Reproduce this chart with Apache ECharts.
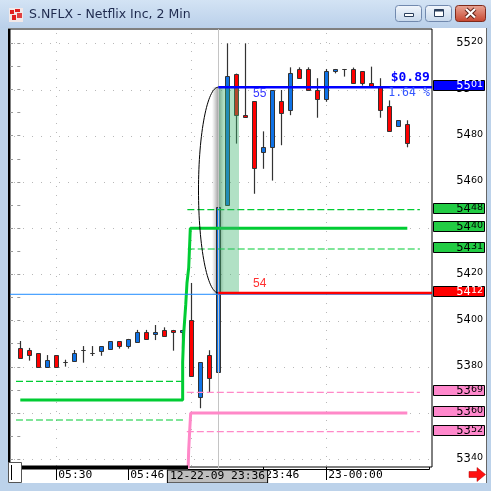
<!DOCTYPE html>
<html>
<head>
<meta charset="utf-8">
<script src="https://cdn.jsdelivr.net/npm/echarts@6.0.0/dist/echarts.min.js"></script>
<style>
html,body{margin:0;padding:0;background:#fff;overflow:hidden}
#chart{width:491px;height:491px}
</style>
</head>
<body>
<div id="chart"></div>
<script>
// ---------------- data ----------------
const titleText = 'S.NFLX - Netflix Inc, 2 Min';
const candleIdx = [0,1,2,3,4,5,6,7,8,9,10,11,12,13,14,15,16,17,18,19,20,21,22,23,24,25,26,27,28,29,30,31,32,33,34,35,36,37,38,39,40,41,42,43];
const opens  = [5388.0,5387.2,5385.9,5380.1,5385.1,5382.0,5382.7,5387.2,5385.9,5387.0,5387.9,5391.1,5388.9,5390.9,5395.0,5394.1,5396.0,5396.0,5395.0,5400.1,5367.1,5385.0,5377.9,5449.9,5506.9,5488.9,5494.9,5472.8,5475.0,5494.9,5491.0,5508.8,5508.8,5499.8,5495.8,5508.0,5508.9,5508.9,5508.0,5502.7,5501.0,5492.7,5484.1,5485.0];
const closes = [5384.0,5385.0,5380.1,5382.8,5380.1,5382.0,5385.9,5387.2,5385.9,5388.9,5391.1,5388.9,5392.1,5395.0,5391.9,5395.1,5393.2,5395.0,5396.0,5375.9,5382.0,5375.0,5449.0,5505.7,5488.9,5488.0,5465.9,5475.0,5499.7,5489.7,5507.0,5504.9,5499.7,5495.9,5508.0,5508.9,5508.9,5502.7,5502.7,5501.7,5491.0,5481.9,5486.7,5476.7];
const lows   = [5384.0,5382.7,5380.1,5380.1,5380.1,5380.1,5382.7,5381.8,5384.7,5384.8,5387.9,5387.9,5387.9,5390.9,5391.9,5391.6,5393.2,5387.0,5387.9,5375.9,5362.1,5369.1,5377.9,5449.9,5476.6,5488.0,5454.9,5465.7,5460.6,5475.9,5488.9,5504.9,5499.7,5487.8,5494.7,5507.0,5505.6,5502.7,5501.7,5501.7,5487.8,5481.9,5484.1,5475.0];
const highs  = [5391.2,5388.2,5385.9,5385.1,5385.1,5383.1,5387.3,5389.0,5389.0,5388.9,5391.1,5391.1,5392.1,5396.0,5396.0,5398.1,5397.1,5396.0,5396.0,5416.3,5382.0,5387.2,5449.0,5520.0,5506.9,5520.0,5494.9,5481.9,5499.7,5499.8,5509.6,5509.6,5509.6,5504.9,5508.9,5508.9,5508.9,5509.5,5508.0,5509.9,5504.9,5495.3,5486.7,5486.7];

const timeLabelIdx = [4, 12, 27, 34];
const timeLabels   = ['05:30', '05:46', '23:46', '23-00:00'];
const timeGridIdx  = [4, 19, 34];
const cursorIdx = 22;
const cursorLabel = '12-22-09 23:36';

const yTicks = [5340,5360,5380,5400,5420,5440,5460,5480,5500,5520];
const yMinorTicks = [5340,5350,5360,5370,5380,5390,5400,5410,5420,5430,5440,5450,5460,5470,5480,5490,5500,5510,5520];

// band lines [bar index, price]
const greenMid    = [[0,5365.7],[18.04,5365.7],[18.04,5382.1],[18.16,5394.6],[18.38,5406.8],[18.52,5416.3],[18.71,5422.8],[18.89,5440],[43,5440]];
const greenUpperL = [[-0.48,5373.7],[18.04,5373.7]];
const greenLowerL = [[-0.48,5357.0],[18.3,5357.0]];
const greenUpperR = [[18.56,5448],[44.4,5448]];
const greenLowerR = [[18.6,5431],[44.4,5431]];
const pinkMid     = [[18.6,5330],[18.71,5344],[18.82,5352.2],[18.93,5360],[43,5360]];
const pinkUpperR  = [[18.5,5369],[44.4,5369]];
const pinkLowerR  = [[18.5,5352],[44.4,5352]];

const prevCloseLevel = 5411.4;
const lowMarker  = 5412;
const highMarker = 5501;
const markerStartIdx = 22;
const greenTags = [5448, 5440, 5431];
const pinkTags  = [5369, 5360, 5352];
const redTags   = [5412];
const blueTags  = [5501];
const shadeRange = [22.08, 24.3, 5412, 5501]; // x0, x1, low, high

const annTexts = ['55', '54', '$0.89', '1.64 %'];
const annIdx   = [26.6, 26.6, 45.5, 45.5];
const annVals  = [5501, 5412, 5501, 5501];

// ---------------- layout / style ----------------
const X_MIN = -1.144, X_MAX = 45.744;
const Y_MIN = 5336.67, Y_MAX = 5526.19;
const UP = '#0F72E6', DOWN = '#FF0000', EDGE = '#333333';
const GREEN = '#00CC33', PINK = '#FF88C8';
const annStyle = [
  {dy: 6,    align: 'center', color: '#3535FF', font: '12px "Liberation Sans"'},
  {dy: -9,   align: 'center', color: '#FF3030', font: '12px "Liberation Sans"'},
  {dy: -9.5, align: 'right',  color: '#0000FF', font: 'bold 13px "DejaVu Sans Mono"'},
  {dy: 6,    align: 'right',  color: '#3355FF', font: '11.5px "DejaVu Sans Mono"'}
];
const MONO = '"DejaVu Sans Mono"';

function splitNum(v) {
  const s = String(Math.round(v));
  return '{a|' + s.slice(0, 2) + '}{b|' + s.slice(2) + '}';
}
const richAxis = {
  a: {fontSize: 11.5, fontFamily: 'DejaVu Sans', color: '#000', verticalAlign: 'top', lineHeight: 13},
  b: {fontSize: 9.5, fontFamily: 'DejaVu Sans', color: '#000', verticalAlign: 'top', lineHeight: 13}
};

function renderCandle(params, api) {
  const i = api.value(0), o = api.value(1), c = api.value(2), l = api.value(3), h = api.value(4);
  const pO = api.coord([i, o]), pC = api.coord([i, c]);
  const yl = api.coord([i, l])[1], yh = api.coord([i, h])[1];
  const x = Math.round(pO[0]);
  const top = Math.round(Math.min(pO[1], pC[1])) + 0.5;
  const bot = Math.round(Math.max(pO[1], pC[1])) + 0.5;
  return {type: 'group', children: [
    {type: 'line', shape: {x1: x + 0.5, y1: yh, x2: x + 0.5, y2: yl}, style: {stroke: EDGE, lineWidth: 1.2}},
    {type: 'rect', shape: {x: x - 1.5, y: top, width: 4, height: Math.max(bot - top, 0)},
     style: {fill: c >= o ? UP : DOWN, stroke: EDGE, lineWidth: 1}}
  ]};
}

function hGrid(params, api) {
  const a = api.coord([X_MIN, api.value(0)]), b = api.coord([X_MAX, api.value(0)]);
  const y = Math.round(a[1]) + 0.5;
  return {type: 'line', shape: {x1: a[0] + 4, y1: y, x2: b[0], y2: y}, style: {stroke: '#B8B8B8', lineWidth: 1, lineDash: [1, 8]}};
}
function vGrid(params, api) {
  const a = api.coord([api.value(0), Y_MAX]), b = api.coord([api.value(0), Y_MIN]);
  const x = Math.round(a[0]) + 0.5;
  return {type: 'line', shape: {x1: x, y1: a[1] + 4, x2: x, y2: b[1]}, style: {stroke: '#B8B8B8', lineWidth: 1, lineDash: [1, 8]}};
}

function tagRenderer(fill, textColor) {
  return function (params, api) {
    const v = api.value(0);
    const p = api.coord([X_MAX, v]);
    const y = Math.round(p[1]);
    const x0 = Math.round(p[0]) + 1.5;
    return {type: 'group', children: [
      {type: 'rect', shape: {x: x0, y: y - 6.5, width: 51, height: 10}, style: {fill: fill, stroke: '#000', lineWidth: 1}},
      {type: 'text', style: {x: x0 + 49.5, y: y - 7, text: splitNum(v), align: 'right', verticalAlign: 'top',
        rich: {
          a: {fontSize: 11.5, fontFamily: 'DejaVu Sans', fill: textColor, verticalAlign: 'top', lineHeight: 12},
          b: {fontSize: 9.5, fontFamily: 'DejaVu Sans', fill: textColor, verticalAlign: 'top', lineHeight: 12}
        }}}
    ]};
  };
}

function lineSeries(data, color, width, dash, z) {
  return {type: 'line', data: data, symbol: 'none', silent: true, z: z || 3,
    lineStyle: {color: color, width: width, type: dash || 'solid'}};
}

const chart = echarts.init(document.getElementById('chart'), null, {renderer: 'canvas'});
const grad = (c0, c1) => new echarts.graphic.LinearGradient(0, 0, 0, 1, [{offset: 0, color: c0}, {offset: 1, color: c1}]);

const option = {
  animation: false,
  backgroundColor: '#ffffff',
  grid: {left: 10, right: 59, top: 29, bottom: 24, show: true, backgroundColor: '#fff', borderColor: '#000', borderWidth: 1},
  xAxis: {
    type: 'value', min: X_MIN, max: X_MAX,
    axisLine: {show: false}, splitLine: {show: false},
    axisTick: {show: true, customValues: timeLabelIdx, length: 13, lineStyle: {color: '#000'}},
    axisLabel: {customValues: timeLabelIdx, formatter: v => timeLabels[timeLabelIdx.indexOf(v)],
      align: 'left', margin: 3, padding: [0, 0, 0, 2], fontFamily: MONO, fontSize: 11.3, color: '#000'}
  },
  yAxis: [{
    type: 'value', position: 'right', min: Y_MIN, max: Y_MAX,
    axisLine: {show: false}, splitLine: {show: false},
    axisTick: {show: true, inside: true, length: 3, customValues: yMinorTicks, lineStyle: {color: '#999'}},
    axisLabel: {customValues: yTicks, align: 'right', margin: 51, formatter: splitNum, rich: richAxis}
  }, {
    type: 'value', position: 'left', min: Y_MIN, max: Y_MAX,
    axisLine: {show: false}, splitLine: {show: false}, axisLabel: {show: false},
    axisTick: {show: true, inside: true, length: 3, customValues: yMinorTicks, lineStyle: {color: '#999'}}
  }],
  series: [
    {type: 'custom', z: 1, silent: true, data: yTicks.map(v => [v]), renderItem: hGrid},
    {type: 'custom', z: 1, silent: true, data: timeGridIdx.map(v => [v]), renderItem: vGrid},
    // soft shadow on the left edge of the shaded zone (under the candles)
    {type: 'custom', z: 1.5, silent: true, data: [shadeRange], renderItem: (p, api) => {
      const a = api.coord([api.value(0), api.value(3)]), b = api.coord([api.value(1), api.value(2)]);
      return {type: 'rect', shape: {x: a[0] - 7, y: a[1], width: 12, height: b[1] - a[1] + 2},
        style: {fill: new echarts.graphic.LinearGradient(0, 0, 1, 0, [
          {offset: 0, color: 'rgba(120,120,120,0)'}, {offset: 0.55, color: 'rgba(90,90,90,0.6)'}, {offset: 1, color: 'rgba(120,120,120,0)'}])}};
    }},
    {type: 'custom', z: 2, silent: true, renderItem: renderCandle, encode: {x: 0, y: [1, 2, 3, 4]},
      data: candleIdx.map((x, k) => [x, opens[k], closes[k], lows[k], highs[k]])},
    // crosshair
    {type: 'custom', z: 2.5, silent: true, data: [[cursorIdx]], renderItem: (p, api) => {
      const a = api.coord([api.value(0), Y_MAX]), b = api.coord([api.value(0), Y_MIN]);
      const x = Math.round(a[0]) + 0.5;
      return {type: 'group', children: [
        {type: 'line', shape: {x1: x, y1: a[1], x2: x, y2: b[1] + 7}, style: {stroke: '#C4C4C4', lineWidth: 1}},
        {type: 'text', z2: 10, style: {x: x - 1, y: b[1] + 9.5, text: cursorLabel, align: 'center', verticalAlign: 'middle',
          font: '11.3px ' + MONO, fill: '#000', backgroundColor: '#BEBEBE', borderColor: '#000', borderWidth: 1, padding: [1, 2, 0, 2]}}
      ]};
    }},
    lineSeries(greenUpperL, GREEN, 1.2, [7, 3]),
    lineSeries(greenLowerL, GREEN, 1.2, [7, 3]),
    lineSeries(greenUpperR, GREEN, 1.2, [7, 3]),
    lineSeries(greenLowerR, GREEN, 1.2, [7, 3]),
    lineSeries(pinkUpperR, PINK, 1.2, [7, 3]),
    lineSeries(pinkLowerR, PINK, 1.2, [7, 3]),
    lineSeries(greenMid, GREEN, 3),
    lineSeries(pinkMid, PINK, 3),
    lineSeries([[X_MIN, prevCloseLevel], [X_MAX, prevCloseLevel]], '#1E8CFF', 1),
    // shaded zone
    {type: 'custom', z: 4, silent: true, data: [shadeRange], renderItem: (p, api) => {
      const a = api.coord([api.value(0), api.value(3)]), b = api.coord([api.value(1), api.value(2)]);
      return {type: 'rect', shape: {x: a[0], y: a[1], width: b[0] - a[0], height: b[1] - a[1]}, style: {fill: 'rgba(60,180,110,0.4)'}};
    }},
    lineSeries([[markerStartIdx, lowMarker], [X_MAX, lowMarker]], '#FF0000', 2.5, 'solid', 5),
    lineSeries([[markerStartIdx, highMarker], [X_MAX, highMarker]], '#0000FF', 2.5, 'solid', 5),
    // curve between the two markers
    {type: 'custom', z: 5, silent: true, data: [[markerStartIdx, highMarker, lowMarker]], renderItem: (p, api) => {
      const t = api.coord([api.value(0), api.value(1)]), b = api.coord([api.value(0), api.value(2)]);
      const rx = api.size([2.2, 0])[0];
      const cx = t[0], ry = (b[1] - t[1]) / 2, cy = t[1] + ry, k = 0.5523;
      const d = 'M' + cx + ',' + t[1] +
        ' C' + (cx - k * rx) + ',' + t[1] + ' ' + (cx - rx) + ',' + (cy - k * ry) + ' ' + (cx - rx) + ',' + cy +
        ' C' + (cx - rx) + ',' + (cy + k * ry) + ' ' + (cx - k * rx) + ',' + b[1] + ' ' + cx + ',' + b[1];
      return {type: 'path', shape: {pathData: d}, style: {fill: null, stroke: '#000', lineWidth: 1}};
    }},
    // price tags on the right axis
    {type: 'custom', z: 6, silent: true, data: greenTags.map(v => [v]), renderItem: tagRenderer('#22CC44', '#000')},
    {type: 'custom', z: 6, silent: true, data: pinkTags.map(v => [v]), renderItem: tagRenderer('#FF88CC', '#000')},
    {type: 'custom', z: 6, silent: true, data: redTags.map(v => [v]), renderItem: tagRenderer('#FF0000', '#fff')},
    {type: 'custom', z: 6, silent: true, data: blueTags.map(v => [v]), renderItem: tagRenderer('#0000FF', '#fff')},
    // annotations
    {type: 'custom', z: 6, silent: true, data: annTexts.map((t, k) => [annIdx[k], annVals[k], k]), renderItem: (p, api) => {
      const k = api.value(2), s = annStyle[k];
      const c = api.coord([api.value(0), api.value(1)]);
      return {type: 'text', style: {x: c[0], y: c[1] + s.dy, text: annTexts[k], align: s.align, verticalAlign: 'middle', font: s.font, fill: s.color}};
    }}
  ],
  graphic: [
    // window frame
    {type: 'rect', z: 50, silent: true, shape: {x: 0, y: 0, width: 491, height: 28}, style: {fill: grad('#D3E3F4', '#BAD0EA')}},
    {type: 'rect', z: 50, silent: true, shape: {x: 0, y: 28, width: 8, height: 463}, style: {fill: '#BCD2EA'}},
    {type: 'rect', z: 50, silent: true, shape: {x: 487, y: 28, width: 4, height: 463}, style: {fill: '#BCD2EA'}},
    {type: 'rect', z: 50, silent: true, shape: {x: 0, y: 483, width: 491, height: 8}, style: {fill: '#BCD2EA'}},
    {type: 'line', z: 50, silent: true, shape: {x1: 486.5, y1: 28, x2: 486.5, y2: 483}, style: {stroke: '#666', lineWidth: 1}},
    {type: 'rect', z: 50, silent: true, shape: {x: 8, y: 28.5, width: 2, height: 439}, style: {fill: '#000'}},
    // icon
    {type: 'rect', z: 51, silent: true, shape: {x: 9, y: 8, width: 14, height: 14}, style: {fill: '#F2E8E8'}},
    {type: 'rect', z: 52, silent: true, shape: {x: 10, y: 10, width: 4, height: 4}, style: {fill: '#E02020'}},
    {type: 'rect', z: 52, silent: true, shape: {x: 15, y: 9, width: 5, height: 3}, style: {fill: '#E02020'}},
    {type: 'rect', z: 52, silent: true, shape: {x: 12, y: 15, width: 4, height: 5}, style: {fill: '#E02020'}},
    {type: 'rect', z: 52, silent: true, shape: {x: 17, y: 13, width: 5, height: 5}, style: {fill: '#E04040'}},
    // title
    {type: 'text', z: 52, silent: true, x: 29, y: 15, style: {text: titleText, font: '12.5px "DejaVu Sans"', fill: '#1E2A4E', verticalAlign: 'middle'}},
    // buttons
    {type: 'rect', z: 52, silent: true, shape: {x: 395.5, y: 5.5, width: 26, height: 16, r: 3}, style: {fill: grad('#F3F7FC', '#C6D7EB'), stroke: '#7189AE', lineWidth: 1}},
    {type: 'rect', z: 53, silent: true, shape: {x: 404.5, y: 13.5, width: 9, height: 3}, style: {fill: '#fff', stroke: '#2B3F5C', lineWidth: 1}},
    {type: 'rect', z: 52, silent: true, shape: {x: 425.5, y: 5.5, width: 26, height: 16, r: 3}, style: {fill: grad('#F3F7FC', '#C6D7EB'), stroke: '#7189AE', lineWidth: 1}},
    {type: 'rect', z: 53, silent: true, shape: {x: 434.5, y: 9.5, width: 9, height: 7}, style: {fill: '#fff', stroke: '#2B3F5C', lineWidth: 1}},
    {type: 'rect', z: 54, silent: true, shape: {x: 434.5, y: 9.5, width: 9, height: 2}, style: {fill: '#2B3F5C'}},
    {type: 'rect', z: 52, silent: true, shape: {x: 455.5, y: 5.5, width: 30, height: 16, r: 3}, style: {fill: grad('#EAA898', '#C6432C'), stroke: '#7E2A1C', lineWidth: 1}},
    {type: 'polyline', z: 53, silent: true, shape: {points: [[466, 9], [475, 17.5]]}, style: {stroke: '#5A1E14', lineWidth: 4}},
    {type: 'polyline', z: 53, silent: true, shape: {points: [[475, 9], [466, 17.5]]}, style: {stroke: '#5A1E14', lineWidth: 4}},
    {type: 'polyline', z: 54, silent: true, shape: {points: [[466, 9], [475, 17.5]]}, style: {stroke: '#fff', lineWidth: 2.2}},
    {type: 'polyline', z: 54, silent: true, shape: {points: [[475, 9], [466, 17.5]]}, style: {stroke: '#fff', lineWidth: 2.2}},
    // bottom scroll area
    {type: 'rect', z: 60, silent: true, shape: {x: 22, y: 465.5, width: 166, height: 4}, style: {fill: '#000'}},
    {type: 'polyline', z: 60, silent: true, shape: {points: [[188, 469.5], [429.5, 469.5], [429.5, 467]]}, style: {stroke: '#000', lineWidth: 1}},
    {type: 'rect', z: 60, silent: true, shape: {x: 8.5, y: 462.5, width: 13, height: 20}, style: {fill: '#fff', stroke: '#555', lineWidth: 1}},
    {type: 'line', z: 61, silent: true, shape: {x1: 11.5, y1: 465, x2: 11.5, y2: 480}, style: {stroke: '#000', lineWidth: 1}},
    // red arrow
    {type: 'polygon', z: 60, silent: true, shape: {points: [[469, 471.5], [477, 471.5], [477, 467.5], [485.5, 474.5], [477, 481.5], [477, 477.5], [469, 477.5]]}, style: {fill: '#FF1010', stroke: '#B00000', lineWidth: 0.5}}
  ]
};
chart.setOption(option);
</script>
</body>
</html>
